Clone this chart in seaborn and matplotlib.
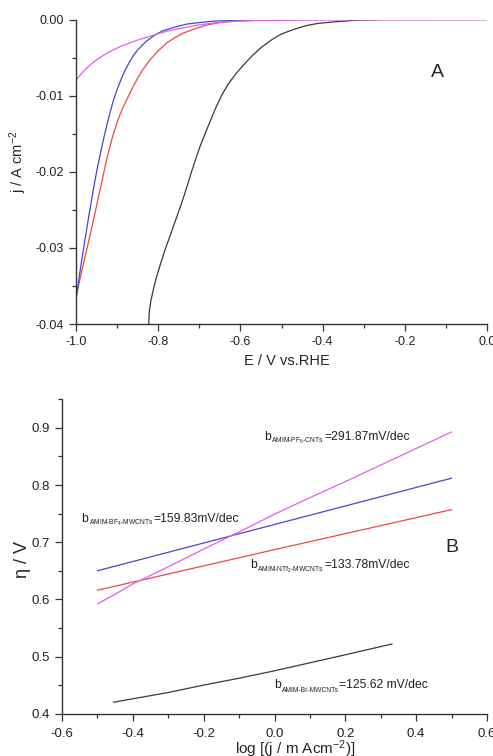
import numpy as np
import pandas as pd
import matplotlib
matplotlib.use("Agg")
import matplotlib.pyplot as plt
from matplotlib.ticker import MultipleLocator, FormatStrFormatter
import seaborn as sns

# ---- Panel A: polarization curves (E vs RHE, current density) ----
e_pf6 = [-1.0, -0.99, -0.98, -0.97, -0.96, -0.95, -0.93, -0.91, -0.89, -0.87, -0.85,
         -0.82, -0.79, -0.76, -0.73, -0.70, -0.67, -0.64, -0.60, -0.55, -0.45, 0.0]
j_pf6 = [-0.0080, -0.0073, -0.0067, -0.0062, -0.0057, -0.0053, -0.0046, -0.0040,
         -0.0035, -0.0031, -0.0027, -0.0022, -0.0017, -0.0013, -0.0010, -0.0007,
         -0.0005, -0.0003, -0.0002, -0.0001, -0.00005, 0.0]

e_bf4 = [-1.0, -0.99, -0.98, -0.97, -0.96, -0.95, -0.94, -0.93, -0.92, -0.91, -0.90,
         -0.89, -0.88, -0.87, -0.86, -0.85, -0.83, -0.81, -0.79, -0.76, -0.73, -0.70,
         -0.66, -0.60, -0.45, 0.0]
j_bf4 = [-0.0367, -0.0330, -0.0295, -0.0262, -0.0230, -0.0200, -0.0174, -0.0150,
         -0.0128, -0.0108, -0.0092, -0.0078, -0.0066, -0.0056, -0.0047, -0.0040,
         -0.0029, -0.0021, -0.0015, -0.0010, -0.0006, -0.0004, -0.0002, -0.0001,
         0.0, 0.0]

e_ntf2 = [-1.0, -0.99, -0.98, -0.97, -0.96, -0.95, -0.94, -0.93, -0.92, -0.91, -0.90,
          -0.89, -0.88, -0.87, -0.86, -0.85, -0.84, -0.82, -0.80, -0.78, -0.76, -0.74,
          -0.71, -0.68, -0.65, -0.61, -0.55, -0.4, 0.0]
j_ntf2 = [-0.0365, -0.0340, -0.0316, -0.0293, -0.0269, -0.0245, -0.0220, -0.0195,
          -0.0172, -0.0152, -0.0135, -0.0121, -0.0109, -0.0098, -0.0087, -0.0077,
          -0.0068, -0.0053, -0.0041, -0.0031, -0.0024, -0.0018, -0.0012, -0.0007,
          -0.0004, -0.0002, -0.0001, 0.0, 0.0]

e_br = [-0.823, -0.822, -0.818, -0.812, -0.805, -0.795, -0.785, -0.775, -0.762, -0.750,
        -0.738, -0.728, -0.719, -0.708, -0.697, -0.686, -0.673, -0.660, -0.646, -0.630,
        -0.612, -0.593, -0.572, -0.550, -0.525, -0.500, -0.470, -0.440, -0.410, -0.370,
        -0.320, -0.25, 0.0]
j_br = [-0.0400, -0.0385, -0.0370, -0.0355, -0.0340, -0.0322, -0.0305, -0.0290,
        -0.0270, -0.0252, -0.0233, -0.0216, -0.0200, -0.0182, -0.0165, -0.0150,
        -0.0133, -0.0116, -0.0100, -0.0085, -0.0072, -0.0060, -0.0048, -0.0037,
        -0.0027, -0.0019, -0.0013, -0.0008, -0.0005, -0.0003, -0.0001, 0.0, 0.0]

# ---- Panel B: Tafel plots ----
logj_pf6 = [-0.5, -0.45, -0.4, -0.3, -0.2, -0.1, 0.0, 0.1, 0.2, 0.3, 0.4, 0.5]
eta_pf6 = [0.592, 0.609, 0.627, 0.657, 0.688, 0.718, 0.749, 0.778, 0.806, 0.835, 0.864, 0.893]

logj_bf4 = [-0.5, 0.0, 0.5]
eta_bf4 = [0.650, 0.731, 0.812]

logj_ntf2 = [-0.5, 0.0, 0.5]
eta_ntf2 = [0.616, 0.687, 0.757]

logj_br = [-0.455, -0.3, -0.2, -0.1, 0.0, 0.1, 0.2, 0.332]
eta_br = [0.420, 0.437, 0.450, 0.462, 0.475, 0.489, 0.503, 0.522]

# Tafel slope annotations: (subscript, value text, anchor position in data units)
slope_subs = [r"AMIM-PF$_6$-CNTs", r"AMIM-BF$_4$-MWCNTs",
              r"AMIM-NTf$_2$-MWCNTs", r"AMIM-Br-MWCNTs"]
slope_vals = ["=291.87mV/dec", "=159.83mV/dec", "=133.78mV/dec", "=125.62 mV/dec"]
slope_pos = [(-0.03, 0.879), (-0.545, 0.735), (-0.07, 0.654), (0.0, 0.445)]

C_MAG = "#e062e4"
C_BLUE = "#4646d2"
C_RED = "#e84a4a"
C_BLACK = "#3a3a3a"
C_TEXT = "#222222"

sns.set_style("ticks")
plt.rcParams["font.family"] = ["Liberation Sans", "DejaVu Sans"]
plt.rcParams["mathtext.fontset"] = "custom"
plt.rcParams["mathtext.rm"] = "Liberation Sans"
plt.rcParams["mathtext.it"] = "Liberation Sans:italic"
plt.rcParams["mathtext.default"] = "regular"
plt.rcParams["axes.unicode_minus"] = False

fig = plt.figure(figsize=(4.93, 7.56), dpi=100)
axA = fig.add_axes([0.1542, 0.5714, 0.8336, 0.4028])
axB = fig.add_axes([0.1258, 0.0560, 0.8620, 0.4158])


def draw(ax, x, y, color):
    df = pd.DataFrame({"x": x, "y": y})
    sns.lineplot(data=df, x="x", y="y", ax=ax, color=color, lw=0.9,
                 sort=False, estimator=None)


draw(axA, e_br, j_br, C_BLACK)
draw(axA, e_ntf2, j_ntf2, C_RED)
draw(axA, e_bf4, j_bf4, C_BLUE)
draw(axA, e_pf6, j_pf6, C_MAG)

draw(axB, logj_br, eta_br, C_BLACK)
draw(axB, logj_ntf2, eta_ntf2, C_RED)
draw(axB, logj_bf4, eta_bf4, C_BLUE)
draw(axB, logj_pf6, eta_pf6, C_MAG)

for ax in (axA, axB):
    for s in ("top", "right"):
        ax.spines[s].set_visible(False)
    for s in ("left", "bottom"):
        ax.spines[s].set_color("#333333")
        ax.spines[s].set_linewidth(1.0)
    ax.tick_params(which="major", direction="out", length=5, width=0.9,
                   color="#333333", labelcolor=C_TEXT)
    ax.tick_params(which="minor", direction="out", length=3, width=0.9,
                   color="#333333")

# Panel A axes
axA.set_xlim(-1.0, 0.0)
axA.set_ylim(-0.04, 0.0)
axA.xaxis.set_major_locator(MultipleLocator(0.2))
axA.xaxis.set_minor_locator(MultipleLocator(0.1))
axA.yaxis.set_major_locator(MultipleLocator(0.01))
axA.yaxis.set_minor_locator(MultipleLocator(0.005))
axA.xaxis.set_major_formatter(FormatStrFormatter("%.1f"))
axA.yaxis.set_major_formatter(FormatStrFormatter("%.2f"))
axA.tick_params(labelsize=9)
axA.set_xlabel("E / V vs.RHE", fontsize=10.5)
axA.set_ylabel(r"j / A cm$^{-2}$", fontsize=10.5)
axA.xaxis.set_label_coords(0.513, -0.098)
axA.yaxis.set_label_coords(-0.114, 0.532)
axA.text(-0.12, -0.0069, "A", fontsize=14, ha="center", va="center")

# Panel B axes
axB.set_xlim(-0.6, 0.6)
axB.set_ylim(0.4, 0.95)
axB.xaxis.set_major_locator(MultipleLocator(0.2))
axB.xaxis.set_minor_locator(MultipleLocator(0.1))
axB.yaxis.set_major_locator(MultipleLocator(0.1))
axB.yaxis.set_minor_locator(MultipleLocator(0.05))
axB.xaxis.set_major_formatter(FormatStrFormatter("%.1f"))
axB.yaxis.set_major_formatter(FormatStrFormatter("%.1f"))
axB.tick_params(labelsize=9.5)
axB.tick_params(axis="x", which="major", pad=5.5)
axB.set_xlabel(r"log [(j / m Acm$^{-2}$)]", fontsize=11)
axB.set_ylabel("η / V", fontsize=13)
axB.xaxis.set_label_coords(0.548, -0.080)
axB.yaxis.set_label_coords(-0.074, 0.489)
axB.text(0.5, 0.69, "B", fontsize=14, ha="center", va="center")

# "b" + small subscript + value, chained so each piece follows the previous one
for sub, val, (lx, ly) in zip(slope_subs, slope_vals, slope_pos):
    tb = axB.text(lx, ly, "b", fontsize=8.7, ha="left", va="baseline", color=C_TEXT)
    ts = axB.annotate(sub, xy=(1, 0), xycoords=tb, xytext=(0.3, -2.2),
                      textcoords="offset points", fontsize=4.9, ha="left",
                      va="bottom", color=C_TEXT)
    axB.annotate(val, xy=(1, 0), xycoords=(ts, tb), xytext=(0.3, 0),
                 textcoords="offset points", fontsize=8.7, ha="left",
                 va="bottom", color=C_TEXT)

fig.savefig("out.png", dpi=100, facecolor="white")
